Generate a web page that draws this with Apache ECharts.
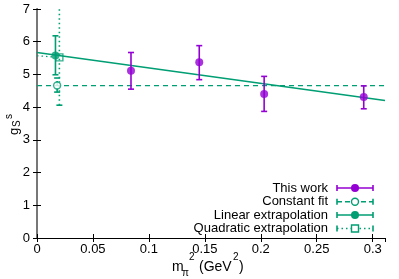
<!DOCTYPE html>
<html><head><meta charset="utf-8">
<script src="https://cdn.jsdelivr.net/npm/echarts@6/dist/echarts.min.js"></script>
<style>html,body{margin:0;padding:0;background:#fff}#c{width:399px;height:279px}</style>
</head><body><div id="c"></div>
<script>
// ---- data ----
const xTicks = [0, 0.05, 0.1, 0.15, 0.2, 0.25, 0.3];
const yTicks = [0, 1, 2, 3, 4, 5, 6, 7];
const workX  = [0.084, 0.145, 0.203, 0.292];
const workY  = [5.11, 5.37, 4.40, 4.31];
const workLo = [4.55, 4.84, 3.87, 3.95];
const workHi = [5.67, 5.88, 4.94, 4.65];
const constX = [0.018], constY = [4.66], constLo = [4.46], constHi = [4.89];
const linX = [0.0165], linY = [5.58], linLo = [4.99], linHi = [6.18];
const quadX = [0.020], quadY = [5.52], quadLo = [4.06], quadHi = [7.6];
const linFitX = [0, 0.311], linFitY = [5.67, 4.20];
const constFitX = [0, 0.311], constFitY = [4.66, 4.66];
const quadFitX = [0, 0.020], quadFitY = [5.57, 5.52];
const legendNames = ['This work', 'Constant fit', 'Linear extrapolation', 'Quadratic extrapolation'];

const PURPLE = '#9400d3', GREEN = '#009e73';
const FONT = '"Liberation Sans", Arial, sans-serif';

function errData(xs, lo, hi){ return xs.map((x,i)=>[x, lo[i], hi[i]]); }
function pts(xs, ys){ return xs.map((x,i)=>[x, ys[i]]); }
function errSeries(xs, lo, hi, color, dash){
  return {
    type: 'custom', clip: true, z: 3,
    data: errData(xs, lo, hi),
    renderItem: function(params, api){
      const p1 = api.coord([api.value(0), api.value(1)]);
      const p2 = api.coord([api.value(0), api.value(2)]);
      const st = {stroke: color, lineWidth: 1.6, lineDash: dash || null};
      const c = 3;
      return {type:'group', children:[
        {type:'line', shape:{x1:p1[0],y1:p1[1],x2:p2[0],y2:p2[1]}, style:st},
        {type:'line', shape:{x1:p1[0]-c,y1:p1[1],x2:p1[0]+c,y2:p1[1]}, style:{stroke:color,lineWidth:1.6}},
        {type:'line', shape:{x1:p2[0]-c,y1:p2[1],x2:p2[0]+c,y2:p2[1]}, style:{stroke:color,lineWidth:1.6}}
      ]};
    }
  };
}

const chart = echarts.init(document.getElementById('c'), null, {renderer:'canvas'});

const axisCommon = {
  type:'value', splitLine:{show:false},
  axisLine:{show:true, lineStyle:{color:'#000', width:1}},
  axisTick:{show:true, inside:true, length:4, lineStyle:{color:'#000'}},
};

// legend graphics
const lgX1 = 337, lgX2 = 373, lgTextX = 328, lgY = [188, 201.7, 215, 228.5];
const legendStyles = [
  {color:PURPLE, dash:null, sym:'dot'},
  {color:GREEN, dash:[5,3], sym:'open'},
  {color:GREEN, dash:null, sym:'dot'},
  {color:GREEN, dash:[1.5,3], sym:'square'}
];
const graphics = [];
legendNames.forEach((n,i)=>{
  const y = lgY[i], s = legendStyles[i];
  graphics.push({type:'text', x:lgTextX, y:y, style:{text:n, font:'13px '+FONT, fill:'#000', align:'right', verticalAlign:'middle'}});
  graphics.push({type:'line', shape:{x1:lgX1,y1:y,x2:lgX2,y2:y}, style:{stroke:s.color, lineWidth:1.6, lineDash:s.dash}});
  graphics.push({type:'line', shape:{x1:lgX1,y1:y-3,x2:lgX1,y2:y+3}, style:{stroke:s.color, lineWidth:1.6}});
  graphics.push({type:'line', shape:{x1:lgX2,y1:y-3,x2:lgX2,y2:y+3}, style:{stroke:s.color, lineWidth:1.6}});
  const cx = (lgX1+lgX2)/2;
  if (s.sym==='dot') graphics.push({type:'circle', shape:{cx:cx,cy:y,r:4}, style:{fill:s.color}});
  else if (s.sym==='open') graphics.push({type:'circle', shape:{cx:cx,cy:y,r:3.5}, style:{fill:'#fff', stroke:s.color, lineWidth:1.4}});
  else graphics.push({type:'rect', shape:{x:cx-3.5,y:y-3.5,width:7,height:7}, style:{fill:'#fff', stroke:s.color, lineWidth:1.4}});
});
// y-axis title g_S^s (rotated)
graphics.push({type:'group', x:14, y:124, rotation:Math.PI/2, children:[
  {type:'text', x:-11, y:0, style:{text:'g', font:'13px '+FONT, fill:'#000', verticalAlign:'middle'}},
  {type:'text', x:-3, y:3, style:{text:'S', font:'10px '+FONT, fill:'#000', verticalAlign:'middle'}},
  {type:'text', x:5, y:-5, style:{text:'s', font:'10px '+FONT, fill:'#000', verticalAlign:'middle'}}
]});
// x-axis title m_pi^2 (GeV^2)
graphics.push({type:'text', x:172, y:267, style:{text:'m', font:'14px '+FONT, fill:'#000', verticalAlign:'middle'}});
graphics.push({type:'text', x:182, y:273, style:{text:'π', font:'10px '+FONT, fill:'#000', verticalAlign:'middle'}});
graphics.push({type:'text', x:189, y:257, style:{text:'2', font:'10px '+FONT, fill:'#000', verticalAlign:'middle'}});
graphics.push({type:'text', x:199, y:267, style:{text:'(GeV', font:'14px '+FONT, fill:'#000', verticalAlign:'middle'}});
graphics.push({type:'text', x:233, y:257, style:{text:'2', font:'10px '+FONT, fill:'#000', verticalAlign:'middle'}});
graphics.push({type:'text', x:239, y:267, style:{text:')', font:'14px '+FONT, fill:'#000', verticalAlign:'middle'}});

chart.setOption({
  animation:false,
  backgroundColor:'#fff',
  grid:{left:37, right:14, top:9, bottom:41},
  xAxis:[
    Object.assign({}, axisCommon, {position:'bottom', min:xTicks[0], max:0.311, interval:0.05,
      axisLabel:{show:true, showMaxLabel:false, margin:5, fontSize:13, fontFamily:FONT, color:'#000',
        formatter:v=> xTicks.some(t=>Math.abs(t-v)<1e-9) ? String(+v.toFixed(2)) : ''}}),
    Object.assign({}, axisCommon, {position:'top', min:xTicks[0], max:0.311, interval:0.05, axisLabel:{show:false}})
  ],
  yAxis:[
    Object.assign({}, axisCommon, {position:'left', min:yTicks[0], max:yTicks[yTicks.length-1], interval:1,
      axisLabel:{margin:7, fontSize:13, fontFamily:FONT, color:'#000'}}),
    Object.assign({}, axisCommon, {position:'right', min:yTicks[0], max:yTicks[yTicks.length-1], interval:1,
      axisLabel:{show:false}, axisLine:{show:true, lineStyle:{color:'#777', width:2}}})
  ],
  series:[
    {type:'line', data:pts(constFitX, constFitY), symbol:'none', lineStyle:{color:GREEN, width:1.2, type:[5,4]}, z:1},
    {type:'line', data:pts(linFitX, linFitY), symbol:'none', lineStyle:{color:GREEN, width:1.5}, z:1},
    {type:'line', data:pts(quadFitX, quadFitY), symbol:'none', lineStyle:{color:GREEN, width:1.3, type:[1.5,3]}, z:1},
    errSeries(workX, workLo, workHi, PURPLE),
    errSeries(constX, constLo, constHi, GREEN, [4,3]),
    errSeries(linX, linLo, linHi, GREEN),
    errSeries(quadX, quadLo, quadHi, GREEN, [1.5,3]),
    {type:'scatter', data:pts(workX, workY), symbol:'circle', symbolSize:8, itemStyle:{color:PURPLE}, z:4},
    {type:'scatter', data:pts(constX, constY), symbol:'circle', symbolSize:7, itemStyle:{color:'#fff', borderColor:GREEN, borderWidth:1.4}, z:4},
    {type:'scatter', data:pts(linX, linY), symbol:'circle', symbolSize:8, itemStyle:{color:GREEN}, z:4},
    {type:'scatter', data:pts(quadX, quadY), symbol:'rect', symbolSize:7, itemStyle:{color:'rgba(0,0,0,0)', borderColor:GREEN, borderWidth:1.4}, z:4}
  ],
  graphic: graphics
});
</script></body></html>
